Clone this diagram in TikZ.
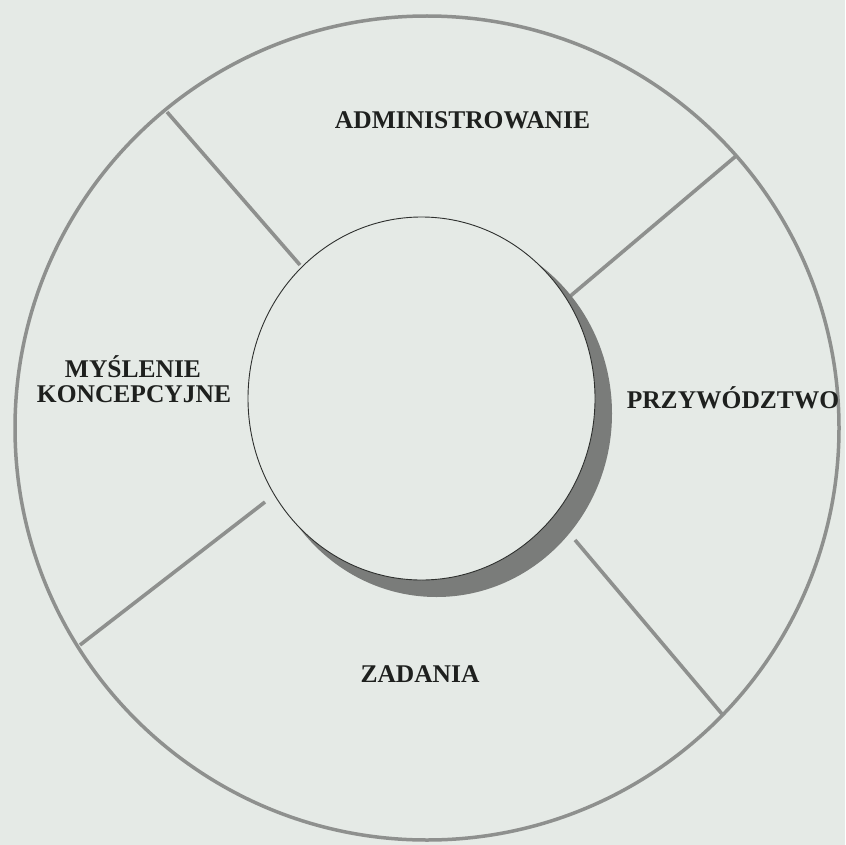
\documentclass[tikz,border=0pt]{standalone}
\usepackage{fontspec}
\setmainfont{Liberation Serif}
\definecolor{paper}{HTML}{E5EAE6}
\definecolor{ringgray}{HTML}{8E908E}
\definecolor{crescentgray}{HTML}{7A7C7A}
\definecolor{ink}{HTML}{1E201E}
\definecolor{rimgray}{HTML}{2E302E}
\begin{document}
\begin{tikzpicture}[x=1pt,y=-1pt,
  ringline/.style={draw=ringgray,line width=3.5pt},
  spoke/.style={draw=ringgray,line width=3.6pt},
  hub/.style={fill=paper,draw=rimgray,line width=0.9pt},
  caption/.style={font=\fontsize{25.5}{25.5}\selectfont\bfseries,text=ink,inner sep=0pt,anchor=base},
]
% page
\fill[paper] (0,0) rectangle (845,845);
\useasboundingbox (0,0) rectangle (845,845);

% centres
\coordinate (O) at (427,428);
\coordinate (C) at (421.5,398.5);

% outer ring
\draw[ringline] (O) circle [radius=412pt];

% spokes between the ring and the hub
\coordinate (ul-out) at (167,112);
\coordinate (ul-in)  at (300,265);
\coordinate (ur-out) at (736,156);
\coordinate (ur-in)  at (568,298);
\coordinate (ll-out) at (80,645);
\coordinate (ll-in)  at (265,502);
\coordinate (lr-out) at (722,714);
\coordinate (lr-in)  at (575,540);
\draw[spoke] (ul-out) -- (ul-in);
\draw[spoke] (ur-out) -- (ur-in);
\draw[spoke] (ll-out) -- (ll-in);
\draw[spoke] (lr-out) -- (lr-in);

% hub with its shadow crescent
\fill[fill=crescentgray] ([shift={(15,15)}]C) ellipse [x radius=175.5pt, y radius=183.5pt];
\path[hub] (C) ellipse [x radius=173.5pt, y radius=181.5pt];

% labels
\node[caption] (adm)  at (462.5,129) {ADMINISTROWANIE};
\node[caption] (mys)  at (133,377) {MYŚLENIE};
\node[caption] (konc) at (134,402) {KONCEPCYJNE};
\node[caption] (prz)  at (733,408) {PRZYWÓDZTWO};
\node[caption] (zad)  at (420,682) {ZADANIA};
\end{tikzpicture}
\end{document}
